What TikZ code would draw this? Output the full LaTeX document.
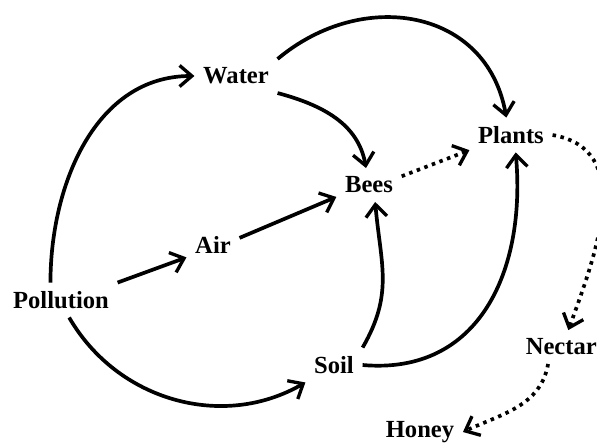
\documentclass[tikz,border=0pt]{standalone}
\usepackage{fontspec}
\setmainfont{Liberation Serif}
\usepackage{tikz}
\usetikzlibrary{arrows.meta}
\tikzset{
  lbl/.style={font=\fontsize{14}{16}\selectfont\bfseries, inner sep=1pt, outer sep=4pt},
  link/.style={-{Straight Barb[length=7pt,width=12pt,line width=1.9pt]}, line width=2.1pt},
  dotlink/.style={link, dash pattern=on 2pt off 2.6pt}
}

\begin{document}
\begin{tikzpicture}[x=0.02cm,y=-0.02cm]
\useasboundingbox (0,0) rectangle (597,444);
% factors
\node[lbl] (water) at (236,76) {Water};
\node[lbl] (plants) at (511,135) {Plants};
\node[lbl] (bees) at (369,185) {Bees};
\node[lbl] (air) at (213,245) {Air};
\node[lbl] (poll) at (61,300) {Pollution};
\node[lbl] (soil) at (334,365) {Soil};
\node[lbl, anchor=west] (nectar) at (517,347) {Nectar};
\node[lbl] (honey) at (420,432) {Honey};
% solid links
\draw[link] ([xshift=-6pt]poll.north) to[out=90,in=180] (water.west);
\draw[link] (water.north east) to[out=40,in=100,looseness=1.2] (plants.105);
\draw[link] (water.south east) to[out=-15,in=100] (bees.100);
\draw[link] (air.15) -- (bees.200);
\draw[link] (poll.north east) -- (air.205);
\draw[link] (poll.-65) to[out=-60,in=210] (soil.south west);
\draw[link] (soil.north east) to[out=60,in=-85,looseness=1.1] (bees.-70);
\draw[link] (soil.east) to[out=-5,in=-85,looseness=1.15] (plants.-75);
% dotted links
\draw[dotlink] (bees.15) -- (plants.200);
\draw[dotlink] (plants.east) to[out=-10,in=70,looseness=1.1] ([xshift=4pt]nectar.north);
\draw[dotlink] ([xshift=-4pt]nectar.250) to[out=-100,in=25] (honey.east);
\end{tikzpicture}
\end{document}
